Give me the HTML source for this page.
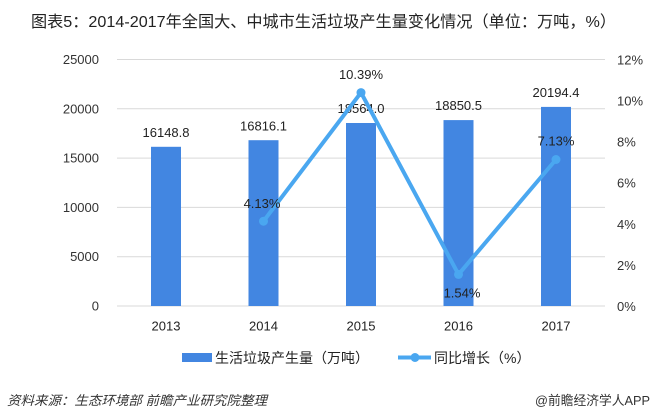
<!DOCTYPE html>
<html><head><meta charset="utf-8"><style>
html,body{margin:0;padding:0;background:#fff;}
svg{display:block;}
text{font-family:"Liberation Sans","Noto Sans CJK SC",sans-serif;}
</style></head><body>
<svg width="652" height="419" viewBox="0 0 652 419" xmlns="http://www.w3.org/2000/svg">
<rect width="652" height="419" fill="#fff"/>
<text x="31" y="27" font-size="16" fill="#222" textLength="585" lengthAdjust="spacingAndGlyphs">图表5：2014-2017年全国大、中城市生活垃圾产生量变化情况（单位：万吨，%）</text>
<g stroke="#d9d9d9" stroke-width="1">
<line x1="117" y1="59.5" x2="605" y2="59.5"/>
<line x1="117" y1="108.8" x2="605" y2="108.8"/>
<line x1="117" y1="158.1" x2="605" y2="158.1"/>
<line x1="117" y1="207.4" x2="605" y2="207.4"/>
<line x1="117" y1="256.7" x2="605" y2="256.7"/>
<line x1="117" y1="306" x2="605" y2="306"/>
</g>
<g font-size="13" fill="#333" text-anchor="end">
<text x="99" y="64">25000</text>
<text x="99" y="113.3">20000</text>
<text x="99" y="162.6">15000</text>
<text x="99" y="211.9">10000</text>
<text x="99" y="261.2">5000</text>
<text x="99" y="310.5">0</text>
</g>
<g font-size="13" fill="#333">
<text x="617" y="64.5">12%</text>
<text x="617" y="105.6">10%</text>
<text x="617" y="146.7">8%</text>
<text x="617" y="187.7">6%</text>
<text x="617" y="228.8">4%</text>
<text x="617" y="269.9">2%</text>
<text x="617" y="311">0%</text>
</g>
<g fill="#4286e1">
<rect x="151" y="146.8" width="30" height="159.2"/>
<rect x="248.5" y="140.2" width="30" height="165.8"/>
<rect x="346" y="123" width="30" height="183"/>
<rect x="443.5" y="120.1" width="30" height="185.9"/>
<rect x="541" y="106.9" width="30" height="199.1"/>
</g>
<g font-size="13" fill="#222" text-anchor="middle">
<text x="166" y="137">16148.8</text>
<text x="263.5" y="130.5">16816.1</text>
<text x="361" y="113">18564.0</text>
<text x="458.5" y="110">18850.5</text>
<text x="556" y="97">20194.4</text>
</g>
<polyline points="263.5,221.2 361,92.6 458.5,274.4 556,159.5" fill="none" stroke="#4aa7f0" stroke-width="4" stroke-linejoin="round"/>
<g fill="#4aa7f0">
<circle cx="263.5" cy="221.2" r="4.5"/>
<circle cx="361" cy="92.6" r="4.5"/>
<circle cx="458.5" cy="274.4" r="4.5"/>
<circle cx="556" cy="159.5" r="4.5"/>
</g>
<g font-size="13" fill="#222" text-anchor="middle">
<text x="262" y="208">4.13%</text>
<text x="361" y="79">10.39%</text>
<text x="462" y="297.5">1.54%</text>
<text x="556" y="145.5">7.13%</text>
</g>
<g font-size="13" fill="#222" text-anchor="middle">
<text x="166" y="330.5">2013</text>
<text x="263.5" y="330.5">2014</text>
<text x="361" y="330.5">2015</text>
<text x="458.5" y="330.5">2016</text>
<text x="556" y="330.5">2017</text>
</g>
<rect x="182" y="353" width="30" height="9" fill="#4286e1"/>
<text x="215" y="363" font-size="14" fill="#222">生活垃圾产生量（万吨）</text>
<line x1="398" y1="357.5" x2="431" y2="357.5" stroke="#4aa7f0" stroke-width="4"/>
<circle cx="415" cy="357.5" r="4.5" fill="#4aa7f0"/>
<text x="434" y="363" font-size="14" fill="#222">同比增长（%）</text>
<text x="7" y="405" font-size="13" fill="#333" font-style="italic" textLength="260" lengthAdjust="spacingAndGlyphs">资料来源：生态环境部 前瞻产业研究院整理</text>
<text x="535" y="405" font-size="13" fill="#333" textLength="115" lengthAdjust="spacingAndGlyphs">@前瞻经济学人APP</text>
</svg>
</body></html>
